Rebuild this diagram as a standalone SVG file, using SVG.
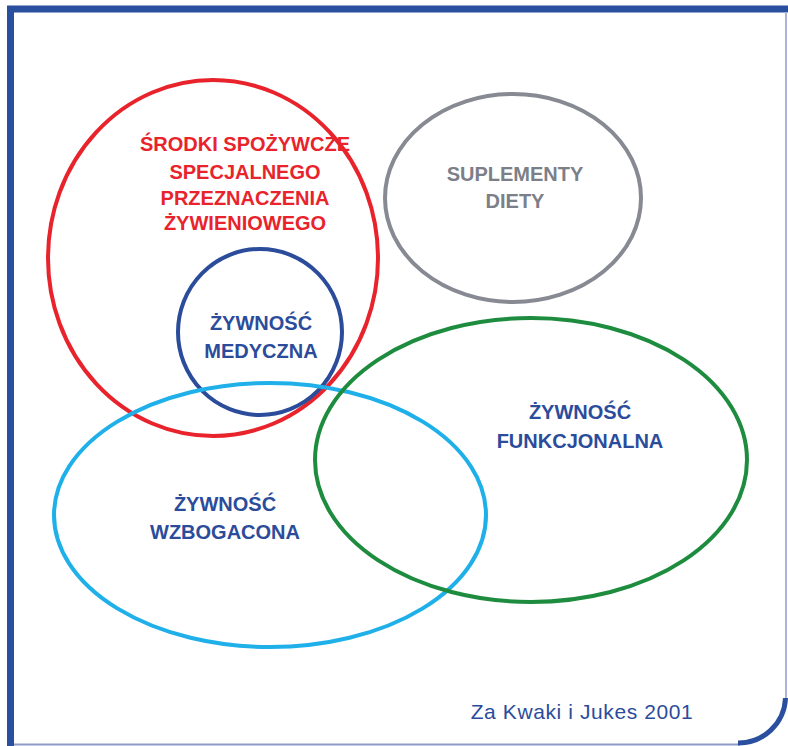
<svg xmlns="http://www.w3.org/2000/svg" width="788" height="746" viewBox="0 0 788 746">
<style>
.lbl{font-family:"Liberation Sans",Arial,sans-serif;font-weight:bold;font-size:20px;text-anchor:middle}
.blue{fill:#2b4c9b}
.ring{fill:none;stroke-width:4}
</style>
<rect width="788" height="746" fill="#ffffff"/>
<g id="frame" fill="none">
<line x1="7" y1="9" x2="788" y2="9" stroke="#2a4f9e" stroke-width="7"/>
<line x1="10.5" y1="6" x2="10.5" y2="746" stroke="#2a4f9e" stroke-width="7"/>
<line x1="786" y1="12" x2="786" y2="700" stroke="#a9b4d6" stroke-width="2"/>
<line x1="14" y1="744.5" x2="740" y2="744.5" stroke="#8d9bc8" stroke-width="2"/>
<path d="M738 743 A47 47 0 0 0 785.5 698" stroke="#2a4f9e" stroke-width="5"/>
</g>
<g id="node-srodki">
<ellipse class="ring" cx="213" cy="258" rx="165" ry="178" stroke="#e8232b"/>
<text class="lbl" fill="#e8232b" x="245" y="151">ŚRODKI SPOŻYWCZE</text>
<text class="lbl" fill="#e8232b" x="245" y="179">SPECJALNEGO</text>
<text class="lbl" fill="#e8232b" x="245" y="205">PRZEZNACZENIA</text>
<text class="lbl" fill="#e8232b" x="245" y="230">ŻYWIENIOWEGO</text>
</g>
<g id="node-suplementy">
<ellipse class="ring" cx="513" cy="198" rx="128" ry="104" stroke="#878a92"/>
<text class="lbl" fill="#7c7f88" x="515" y="181">SUPLEMENTY</text>
<text class="lbl" fill="#7c7f88" x="515" y="208">DIETY</text>
</g>
<g id="node-medyczna">
<ellipse class="ring" cx="260" cy="332" rx="82" ry="83" stroke="#2b4c9b"/>
<text class="lbl blue" x="261" y="330">ŻYWNOŚĆ</text>
<text class="lbl blue" x="261" y="358">MEDYCZNA</text>
</g>
<g id="node-wzbogacona">
<ellipse class="ring" cx="270" cy="515" rx="216" ry="132" stroke="#1fb0ea"/>
<text class="lbl blue" x="225" y="511">ŻYWNOŚĆ</text>
<text class="lbl blue" x="225" y="539">WZBOGACONA</text>
</g>
<g id="node-funkcjonalna">
<ellipse class="ring" cx="531" cy="460" rx="216" ry="142" stroke="#1e8c3e"/>
<text class="lbl blue" x="580" y="419">ŻYWNOŚĆ</text>
<text class="lbl blue" x="580" y="448">FUNKCJONALNA</text>
</g>
<g id="connectors"></g>
<text x="582" y="719" font-family="'Liberation Sans',Arial,sans-serif" font-size="21" letter-spacing="0.6" fill="#2b4c9b" text-anchor="middle">Za Kwaki i Jukes 2001</text>
</svg>
